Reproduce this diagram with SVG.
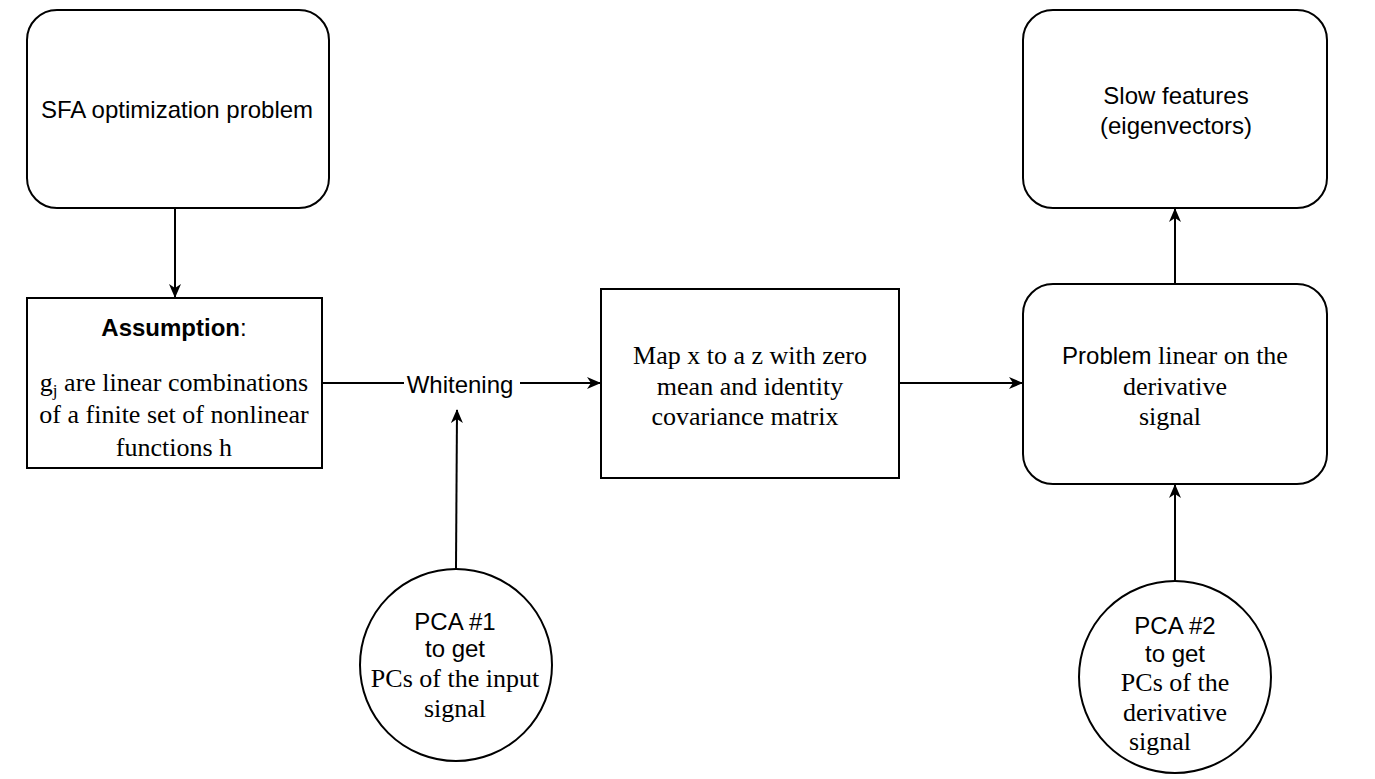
<svg xmlns="http://www.w3.org/2000/svg" width="1375" height="779" viewBox="0 0 1375 779">
<defs>
<marker id="arr" viewBox="0 0 14 12" refX="13" refY="6" markerWidth="14" markerHeight="12" orient="auto" markerUnits="userSpaceOnUse">
<path d="M0,0 L14,6 L0,12 L4,6 Z" fill="#000"/>
</marker>
<style>
.box{fill:#fff;stroke:#000;stroke-width:2}
.edge{fill:none;stroke:#000;stroke-width:2;marker-end:url(#arr)}
.sans{font-family:"Liberation Sans",Arial,sans-serif;font-size:24px;fill:#000}
.serif{font-family:"Liberation Serif","Times New Roman",serif;font-size:26px;fill:#000}
text{text-anchor:middle}
</style>
</defs>
<rect width="1375" height="779" fill="#fff"/>
<g id="connectors">
<line class="edge" x1="175" y1="208" x2="175" y2="297"/>
<line x1="322" y1="383" x2="404" y2="383" stroke="#000" stroke-width="2"/>
<line class="edge" x1="520" y1="383" x2="600" y2="383"/>
<line class="edge" x1="456" y1="568" x2="457" y2="410"/>
<line class="edge" x1="899" y1="383" x2="1022" y2="383"/>
<line class="edge" x1="1175" y1="284" x2="1175" y2="209"/>
<line class="edge" x1="1175" y1="582" x2="1175" y2="485"/>
<text class="sans" x="460" y="393">Whitening</text>
</g>
<g id="sfa">
<rect class="box" x="27" y="10" width="302" height="198" rx="30"/>
<text class="sans" x="177" y="118">SFA optimization problem</text>
</g>
<g id="assumption">
<rect class="box" x="27" y="298" width="295" height="170"/>
<text class="sans" x="174" y="336"><tspan font-weight="bold">Assumption</tspan>:</text>
<text class="serif" x="174" y="391">g<tspan font-size="17" dy="5">j</tspan><tspan dy="-5"> are linear combinations</tspan></text>
<text class="serif" x="174" y="423">of a finite set of nonlinear</text>
<text class="serif" x="174" y="456">functions h</text>
</g>
<g id="map">
<rect class="box" x="601" y="289" width="298" height="189"/>
<text class="serif" x="750" y="364">Map x to a z with zero</text>
<text class="serif" x="750" y="395">mean and identity</text>
<text class="serif" x="745" y="425">covariance matrix</text>
</g>
<g id="problem">
<rect class="box" x="1023" y="284" width="304" height="200" rx="30"/>
<text class="serif" x="1175" y="364"><tspan class="sans">Problem</tspan> linear on the</text>
<text class="serif" x="1175" y="395">derivative</text>
<text class="serif" x="1170" y="425">signal</text>
</g>
<g id="slow">
<rect class="box" x="1023" y="10" width="304" height="198" rx="30"/>
<text class="sans" x="1176" y="104">Slow features</text>
<text class="sans" x="1176" y="134">(eigenvectors)</text>
</g>
<g id="pca1">
<circle class="box" cx="456" cy="665" r="96"/>
<text class="sans" x="455" y="630">PCA #1</text>
<text class="sans" x="455" y="657">to get</text>
<text class="serif" x="455" y="687">PCs of the input</text>
<text class="serif" x="455" y="717">signal</text>
</g>
<g id="pca2">
<circle class="box" cx="1175" cy="677" r="96"/>
<text class="sans" x="1175" y="634">PCA #2</text>
<text class="sans" x="1175" y="662">to get</text>
<text class="serif" x="1175" y="691">PCs of the</text>
<text class="serif" x="1175" y="721">derivative</text>
<text class="serif" x="1160" y="750">signal</text>
</g>
</svg>
